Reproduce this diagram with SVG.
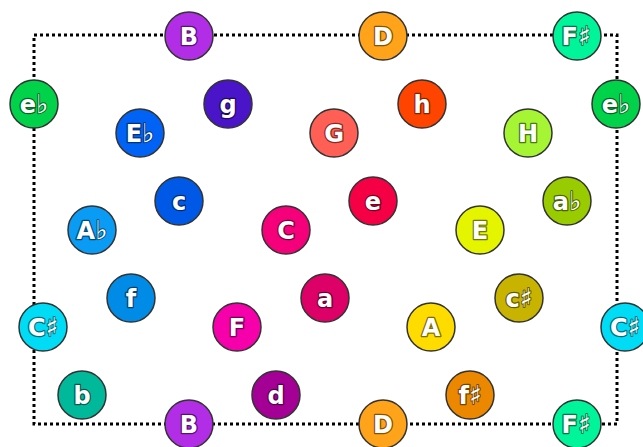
<svg xmlns="http://www.w3.org/2000/svg" width="643" height="447" viewBox="0 0 643 447">
<style>
.n{stroke:#333;stroke-width:1.5}
.t{font-family:"DejaVu Sans",sans-serif;font-weight:bold;font-size:24px;fill:#fff;text-anchor:middle;stroke-width:2.6;paint-order:stroke;stroke-linejoin:round}
.acc{font-weight:normal;font-size:26px;stroke-width:2}
.frame{fill:none;stroke:#000;stroke-width:3;stroke-dasharray:3 3}
</style>
<rect width="643" height="447" fill="#fff"/>
<g id="connectors">
<rect class="frame" x="34" y="35" width="583" height="389"/>
</g>
<g id="B_top"><circle class="n" cx="189" cy="36" r="24" fill="#b22ee6"/><text class="t" x="189" y="45" stroke="#5a1075">B</text></g>
<g id="D_top"><circle class="n" cx="383" cy="36" r="24" fill="#ffa31a"/><text class="t" x="383" y="45" stroke="#8a5200">D</text></g>
<g id="Fs_top"><circle class="n" cx="577" cy="36" r="24" fill="#00f59a"/><text class="t" x="576" y="45" stroke="#007a4a">F<tspan class="acc">♯</tspan></text></g>
<g id="eb_left"><circle class="n" cx="34" cy="104" r="24" fill="#00d24a"/><text class="t" x="34" y="113" stroke="#006a22">e<tspan class="acc">♭</tspan></text></g>
<g id="eb_right"><circle class="n" cx="616" cy="104" r="24" fill="#00d24a"/><text class="t" x="616" y="113" stroke="#006a22">e<tspan class="acc">♭</tspan></text></g>
<g id="Eb"><circle class="n" cx="140" cy="133" r="24" fill="#0063f5"/><text class="t" x="140" y="142" stroke="#00337a">E<tspan class="acc">♭</tspan></text></g>
<g id="g"><circle class="n" cx="228" cy="104" r="24" fill="#4a14c8"/><text class="t" x="228" y="113" stroke="#220860">g</text></g>
<g id="G"><circle class="n" cx="334" cy="133" r="24" fill="#ff5f55"/><text class="t" x="334" y="142" stroke="#8a2a22">G</text></g>
<g id="h"><circle class="n" cx="422" cy="104" r="24" fill="#ff4400"/><text class="t" x="422" y="113" stroke="#8a2200">h</text></g>
<g id="H"><circle class="n" cx="528" cy="133" r="24" fill="#a6f535"/><text class="t" x="528" y="142" stroke="#4a7a10">H</text></g>
<g id="c"><circle class="n" cx="179" cy="201" r="24" fill="#0059e6"/><text class="t" x="179" y="210" stroke="#002c75">c</text></g>
<g id="e"><circle class="n" cx="373" cy="201" r="24" fill="#f50045"/><text class="t" x="373" y="210" stroke="#7a0022">e</text></g>
<g id="ab"><circle class="n" cx="567" cy="201" r="24" fill="#99cc00"/><text class="t" x="567" y="210" stroke="#4a6600">a<tspan class="acc">♭</tspan></text></g>
<g id="Ab"><circle class="n" cx="92" cy="230" r="24" fill="#0a9cf5"/><text class="t" x="92" y="239" stroke="#004d7a">A<tspan class="acc">♭</tspan></text></g>
<g id="C"><circle class="n" cx="286" cy="230" r="24" fill="#f5007a"/><text class="t" x="286" y="239" stroke="#7a003c">C</text></g>
<g id="E"><circle class="n" cx="480" cy="230" r="24" fill="#e5f500"/><text class="t" x="480" y="239" stroke="#727a00">E</text></g>
<g id="f"><circle class="n" cx="131" cy="298" r="24" fill="#008ce6"/><text class="t" x="131" y="307" stroke="#004575">f</text></g>
<g id="a"><circle class="n" cx="325" cy="298" r="24" fill="#dd0066"/><text class="t" x="325" y="307" stroke="#6e0033">a</text></g>
<g id="cs"><circle class="n" cx="519" cy="298" r="24" fill="#c8b400"/><text class="t" x="519" y="307" stroke="#645a00">c<tspan class="acc">♯</tspan></text></g>
<g id="Cs_left"><circle class="n" cx="43" cy="327" r="24" fill="#00dcf5"/><text class="t" x="43" y="336" stroke="#006e7a">C<tspan class="acc">♯</tspan></text></g>
<g id="F"><circle class="n" cx="237" cy="327" r="24" fill="#f500aa"/><text class="t" x="237" y="336" stroke="#7a0055">F</text></g>
<g id="A"><circle class="n" cx="431" cy="327" r="24" fill="#ffdc00"/><text class="t" x="431" y="336" stroke="#806e00">A</text></g>
<g id="Cs_right"><circle class="n" cx="625" cy="327" r="24" fill="#00dcf5"/><text class="t" x="625" y="336" stroke="#006e7a">C<tspan class="acc">♯</tspan></text></g>
<g id="b"><circle class="n" cx="82" cy="395" r="24" fill="#00b89a"/><text class="t" x="82" y="404" stroke="#005c4d">b</text></g>
<g id="d"><circle class="n" cx="276" cy="395" r="24" fill="#a50096"/><text class="t" x="276" y="404" stroke="#52004b">d</text></g>
<g id="fs"><circle class="n" cx="470" cy="395" r="24" fill="#ec8800"/><text class="t" x="470" y="404" stroke="#764400">f<tspan class="acc">♯</tspan></text></g>
<g id="B_bottom"><circle class="n" cx="189" cy="424" r="24" fill="#b22ee6"/><text class="t" x="189" y="433" stroke="#5a1075">B</text></g>
<g id="D_bottom"><circle class="n" cx="383" cy="424" r="24" fill="#ffa31a"/><text class="t" x="383" y="433" stroke="#8a5200">D</text></g>
<g id="Fs_bottom"><circle class="n" cx="577" cy="424" r="24" fill="#00f59a"/><text class="t" x="576" y="433" stroke="#007a4a">F<tspan class="acc">♯</tspan></text></g>
</svg>
